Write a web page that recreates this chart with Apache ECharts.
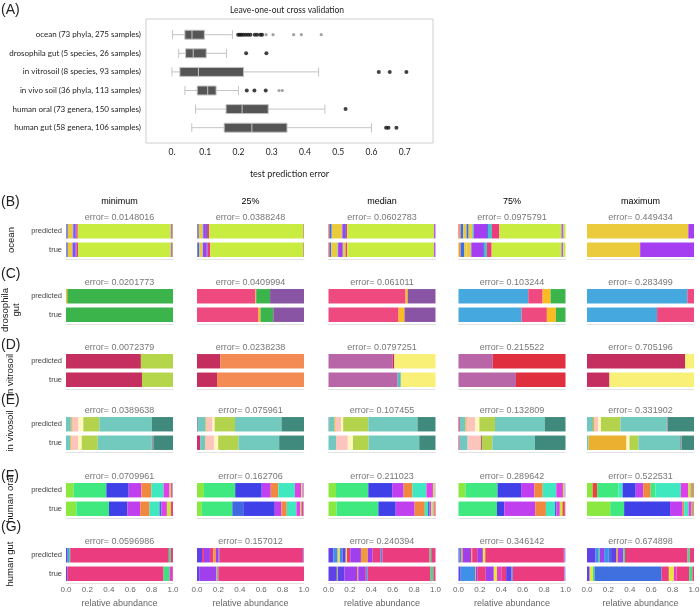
<!DOCTYPE html>
<html><head><meta charset="utf-8">
<script src="https://cdn.jsdelivr.net/npm/echarts@6/dist/echarts.min.js"></script>
<style>html,body{margin:0;padding:0;background:#fff}#c{width:700px;height:607px}</style>
</head><body><div id="c"></div>
<script>
// ---------- Panel A data ----------
const boxCats = ['ocean (73 phyla, 275 samples)','drosophila gut (5 species, 26 samples)','in vitrosoil (8 species, 93 samples)','in vivo soil (36 phyla, 113 samples)','human oral (73 genera, 150 samples)','human gut (58 genera, 106 samples)'];
const boxStats = [
  [0.002, 0.0388, 0.0603, 0.0976, 0.182],
  [0.0202, 0.041, 0.064, 0.1032, 0.164],
  [0.0, 0.0238, 0.0797, 0.2155, 0.441],
  [0.039, 0.076, 0.1075, 0.1328, 0.2],
  [0.071, 0.1627, 0.211, 0.2896, 0.46],
  [0.0597, 0.157, 0.2404, 0.3461, 0.6]
];
const nearOutliers = [
  [0.199,0.204,0.209,0.215,0.222,0.229,0.236,0.249,0.256,0.266,0.271],
  [0.223,0.284],
  [0.622,0.655,0.705],
  [0.225,0.248,0.282],
  [0.522],
  [0.644,0.651,0.675]
];
const farOutliers = [
  [0.283,0.304,0.366,0.389,0.449],
  [], [],
  [0.322,0.332],
  [], []
];
const xTickLabels = ['0.','0.1','0.2','0.3','0.4','0.5','0.6','0.7'];

// ---------- Panels B-G data ----------
const panelLetters = ['(B)','(C)','(D)','(E)','(F)','(G)'];
const rowNames = ['ocean','drosophila\ngut','in vitrosoil','in vivosoil','human oral','human gut'];
const colHeaders = ['minimum','25%','median','75%','maximum'];
const barCats = ['predicted','true'];
const errors = [
  [0.0148016,0.0388248,0.0602783,0.0975791,0.449434],
  [0.0201773,0.0409994,0.061011,0.103244,0.283499],
  [0.0072379,0.0238238,0.0797251,0.215522,0.705196],
  [0.0389638,0.075961,0.107455,0.132809,0.331902],
  [0.0709961,0.162706,0.211023,0.289642,0.522531],
  [0.0596986,0.157012,0.240394,0.346142,0.674898]
];

const oceanSeg = ['RBYTPBKLVN','RBYTPBKLN','RBYTPBYKLV','ROBYBYTPBTKLVL','YP'];
const oceanPred = [
  [.005,.012,.045,.006,.02,.008,.014,.87,.01,.01],
  [.005,.012,.035,.006,.025,.01,.02,.877,.01],
  [.01,.02,.095,.005,.025,.008,0,.012,.81,.015],
  [.01,.01,.025,.03,.02,.035,.012,.125,.015,.03,.07,.58,.02,.018],
  [.947,.053]];
const oceanTrue = [
  [.005,.012,.04,.006,.025,.01,.014,.868,.01,.01],
  [.004,.018,.03,.004,.035,.008,.025,.866,.01],
  [.01,.015,.06,.005,.04,.005,.025,.015,.81,.015],
  [0,.02,.035,.02,0,.04,.005,.11,.015,.02,.045,.652,.018,.02],
  [.497,.503]];

const drosoSeg = ['OG','KOGP','KOP','BKOG','BK'];
const drosoPred = [[.012,.988],[.547,.006,.13,.317],[.72,.02,.26],[.652,.134,.074,.14],[.938,.062]];
const drosoTrue = [[0,1],[.575,.018,.12,.287],[.655,.055,.29],[.59,.236,.084,.09],[.655,.345]];

const vitroSeg = ['CL','CO','MCTY','MR','CY'];
const vitroPred = [[.70,.30],[.218,.782],[.6,.015,0,.385],[.32,.68],[.916,.084]];
const vitroTrue = [[.71,.29],[.187,.813],[.646,0,.03,.324],[.537,.463],[.21,.79]];

const vivoSeg = ['TGOPWLQGD','GCTOPWLQD','GTOPWLQD','CTOPWNLQD','TOPWLQGD'];
const vivoPred = [
  [.045,.005,.012,.055,.045,.15,.49,0,.198],
  [.01,0,.07,.01,.055,.02,.19,.435,.21],
  [.005,.05,.012,.05,.02,.235,.46,.168],
  [.012,.053,.012,.078,.04,0,.146,.466,.193],
  [.056,.015,.034,.025,.183,.43,.012,.245]];
const vivoTrue = [
  [.04,0,.012,.06,.035,.15,.505,.02,.178],
  [0,.03,.045,.006,.077,.04,.19,.38,.232],
  [0,.07,0,.11,.049,.146,.473,.152],
  [.01,.075,0,.124,0,.015,.093,.398,.285],
  [.015,.354,0,.028,.084,.388,.016,.115]];

const oralSeg = ['LGBPOARMYKV','LGRBPOAMYKV','LGBPOARMYVE','LGBPOARMYEV','LEGABPOGAMYN'];
const oralPred = [
  [.072,.305,.209,.118,.093,.115,0,.056,.012,.01,.01],
  [.065,.292,0,.248,.084,.071,.155,.059,.01,.005,.011],
  [.07,.302,.223,.107,.082,.131,0,.061,.015,.009,0],
  [.065,.3,.22,.124,.078,.127,0,.062,.012,0,.012],
  [.053,.042,.2,.038,.122,.07,.07,.045,.237,.07,.02,.033]];
const oralTrue = [
  [.097,.305,.171,.121,.087,.093,.019,.05,.037,.02,0],
  [.045,.285,.102,.295,.062,.05,.09,.037,.01,.015,.009],
  [.075,.391,.162,.177,.095,.03,.015,.015,.018,.012,.01],
  [0,.36,.068,.289,.1,.084,.015,.031,.025,.022,.006],
  [.217,0,.13,0,.429,.118,.015,0,.04,.025,0,.026]];

const gutSeg = ['VBGKGMK','VKPKOPBKL','VBOYBVYKPOPKBKGK','VBOPOKPYMKVBKL','VYBGPBCVOPGKYMKGK'];
const gutPred = [
  [.015,.012,.012,.922,.019,0,.02],
  [.047,.018,.056,.031,.025,.025,.006,.782,.01],
  [.045,.039,.01,.012,.025,.03,.012,.03,.1,.065,.045,.075,.015,.442,.015,.04],
  [.01,.015,.015,.078,.01,.047,.053,.022,0,0,0,0,.735,.015],
  [.08,0,.03,.01,.04,.04,.025,.05,.015,.05,.015,.585,0,0,0,.02,.04]];
const gutTrue = [
  [.012,0,0,.9,.056,.025,.007],
  [.025,0,.155,0,.01,0,.01,.8,0],
  [.07,.01,.008,0,0,.06,0,0,.12,.01,.065,.008,.015,.588,.026,.02],
  [.02,.137,.006,.012,0,.08,.075,.03,.04,.045,.05,.012,.48,.013],
  [.025,.03,0,.015,0,0,.627,0,0,0,0,.068,.047,.025,.118,.03,.015]];

// ---------- styles ----------
const oceanPal = {R:'#e8443a',O:'#f29a32',B:'#3a6ee8',Y:'#ebca3c',T:'#3cc8c0',P:'#a53ef0',K:'#ec3c7c',L:'#c8ec40',N:'#c8a878',V:'#b060e0'};
const drosoPal = {B:'#45a9e0',K:'#ee4a80',O:'#fbbc22',G:'#3cb44c',P:'#8a54a4'};
const vitroPal = {C:'#c42f5f',L:'#b5d54b',O:'#f48b55',M:'#b866a8',Y:'#f9f077',R:'#e0303f',T:'#5bb8c4'};
const vivoPal = {C:'#d0306a',T:'#70c8c0',O:'#ecb030',P:'#fcc4bc',W:'#fff6c0',N:'#9a7a50',L:'#b4d34c',Q:'#72c9bd',G:'#8a9aa8',D:'#3f8a7c'};
const oralPal = {L:'#8ae840',G:'#40e880',R:'#4068e0',B:'#4040e8',P:'#c040f0',O:'#f08840',A:'#40e8c0',M:'#e040e8',Y:'#c8e840',E:'#f04040',V:'#c0a0e0',K:'#f04080',N:'#c8a070'};
const gutPal = {V:'#6040e8',B:'#3e90e8',C:'#4070e0',P:'#a040ec',O:'#f09a40',Y:'#e8e83c',G:'#40e080',M:'#e040d0',K:'#ec3c80',L:'#b090e0'};

const rowsData = [
  {seg: oceanSeg, pred: oceanPred, tru: oceanTrue, pal: oceanPal},
  {seg: drosoSeg, pred: drosoPred, tru: drosoTrue, pal: drosoPal},
  {seg: vitroSeg, pred: vitroPred, tru: vitroTrue, pal: vitroPal},
  {seg: vivoSeg, pred: vivoPred, tru: vivoTrue, pal: vivoPal},
  {seg: oralSeg, pred: oralPred, tru: oralTrue, pal: oralPal},
  {seg: gutSeg, pred: gutPred, tru: gutTrue, pal: gutPal}
];

const NARROW = "Lato, 'Liberation Sans', sans-serif";
const SANS = "'Liberation Sans', Arial, sans-serif";
const colLeft = [66, 197, 328.5, 458.5, 587];
const cellW = 107, cellH = 37;
const rowTop = [222, 287, 352, 415, 481, 546];
const letterY = [202.5, 274, 345, 400, 476, 527.5];
const nameX = [11, 11, 10, 10, 10, 10];
const nameY = [240, 310, 375, 431, 499, 564];

const grids = [], xAxes = [], yAxes = [], series = [], graphics = [];

// Panel A frame grid
grids.push({left: 146, top: 19, width: 287, height: 124, show: true, borderColor: '#cfcfcf', borderWidth: 1, backgroundColor: 'transparent', outerBoundsMode: 'none'});
xAxes.push({gridIndex: 0, type: 'value', min: -0.078, max: 0.785, splitNumber: 8,
  axisLine: {show: false}, axisTick: {show: false}, splitLine: {show: false},
  axisLabel: {margin: 5, fontFamily: NARROW, fontSize: 8.5, color: '#222',
    formatter: v => { const k = Math.round(v * 10); if (Math.abs(v * 10 - k) > 1e-6 || k < 0 || k >= xTickLabels.length) return ''; return xTickLabels[k]; }},
  name: 'test prediction error', nameLocation: 'middle', nameGap: 27,
  nameTextStyle: {fontFamily: NARROW, fontSize: 9, color: '#222'}});
yAxes.push({gridIndex: 0, type: 'value', show: false});
// Panel A data grid
grids.push({left: 146, top: 25.4, width: 287, height: 111.6, outerBoundsMode: 'none'});
xAxes.push({gridIndex: 1, type: 'value', min: -0.078, max: 0.785, show: false});
yAxes.push({gridIndex: 1, type: 'category', data: boxCats, inverse: true,
  axisLine: {show: false}, axisTick: {show: false},
  axisLabel: {margin: 5, fontFamily: NARROW, fontSize: 8, color: '#222'}});
series.push({type: 'boxplot', xAxisIndex: 1, yAxisIndex: 1, data: boxStats, boxWidth: [9, 9],
  itemStyle: {color: '#555555', borderColor: '#c4c4c4', borderWidth: 1}, silent: true});
const nearPts = [], farPts = [];
nearOutliers.forEach((arr, i) => arr.forEach(v => nearPts.push([v, i])));
farOutliers.forEach((arr, i) => arr.forEach(v => farPts.push([v, i])));
series.push({type: 'scatter', xAxisIndex: 1, yAxisIndex: 1, data: nearPts, symbolSize: 4, itemStyle: {color: '#111'}, silent: true});
series.push({type: 'scatter', xAxisIndex: 1, yAxisIndex: 1, data: farPts, symbolSize: 3.2, itemStyle: {color: '#8c8c8c'}, silent: true});

graphics.push({type: 'text', x: 1, y: 10, style: {text: '(A)', font: `14px ${SANS}`, fill: '#222', textAlign: 'left', textVerticalAlign: 'middle', align: 'left', verticalAlign: 'middle'}});
graphics.push({type: 'text', x: 287, y: 10, style: {text: 'Leave-one-out cross validation', font: `8.5px ${NARROW}`, fill: '#222', textAlign: 'center', textVerticalAlign: 'middle', align: 'center', verticalAlign: 'middle'}});

// Column headers
colHeaders.forEach((h, c) => {
  graphics.push({type: 'text', x: colLeft[c] + cellW / 2, y: 202, style: {text: h, font: `9px ${SANS}`, fill: '#000', textAlign: 'center', textVerticalAlign: 'middle', align: 'center', verticalAlign: 'middle'}});
});

rowsData.forEach((d, r) => {
  graphics.push({type: 'text', x: 1, y: letterY[r], style: {text: panelLetters[r], font: `14px ${SANS}`, fill: '#222', textAlign: 'left', textVerticalAlign: 'middle', align: 'left', verticalAlign: 'middle'}});
  graphics.push({type: 'text', x: nameX[r], y: nameY[r], rotation: Math.PI / 2, style: {text: rowNames[r], font: `9.5px ${SANS}`, fill: '#111', lineHeight: 11, textAlign: 'center', textVerticalAlign: 'middle', align: 'center', verticalAlign: 'middle'}});
  for (let c = 0; c < 5; c++) {
    const gi = grids.length;
    const last = r === rowsData.length - 1;
    grids.push({left: colLeft[c], top: rowTop[r], width: cellW, height: cellH, outerBoundsMode: 'none'});
    xAxes.push({gridIndex: gi, type: 'value', min: 0, max: 1, interval: 0.2,
      axisLine: {show: true, lineStyle: {color: '#e2e2e2'}}, axisTick: {show: false}, splitLine: {show: false},
      axisLabel: {show: last, margin: 3, fontFamily: SANS, fontSize: 8, color: '#666', formatter: v => v.toFixed(1)},
      name: last ? 'relative abundance' : '', nameLocation: 'middle', nameGap: 16,
      nameTextStyle: {fontFamily: SANS, fontSize: 9, color: '#666'}});
    yAxes.push({gridIndex: gi, type: 'category', data: barCats, inverse: true,
      axisLine: {show: false}, axisTick: {show: false},
      axisLabel: {show: c === 0, margin: 4, fontFamily: SANS, fontSize: 7.5, color: '#444'}});
    const seg = d.seg[c];
    for (let i = 0; i < seg.length; i++) {
      series.push({type: 'bar', xAxisIndex: gi, yAxisIndex: gi, stack: 's' + gi, barWidth: 14.4,
        data: [d.pred[c][i], d.tru[c][i]], itemStyle: {color: d.pal[seg[i]]}, silent: true});
    }
    graphics.push({type: 'text', x: colLeft[c] + cellW / 2, y: rowTop[r] - 4.5, style: {text: 'error= ' + errors[r][c], font: `9px ${SANS}`, fill: '#777', textAlign: 'center', textVerticalAlign: 'middle', align: 'center', verticalAlign: 'middle'}});
  }
});

const chart = echarts.init(document.getElementById('c'), null, {renderer: 'canvas'});
chart.setOption({
  animation: false,
  backgroundColor: '#fff',
  grid: grids, xAxis: xAxes, yAxis: yAxes, series: series,
  graphic: {elements: graphics}
});
</script></body></html>
